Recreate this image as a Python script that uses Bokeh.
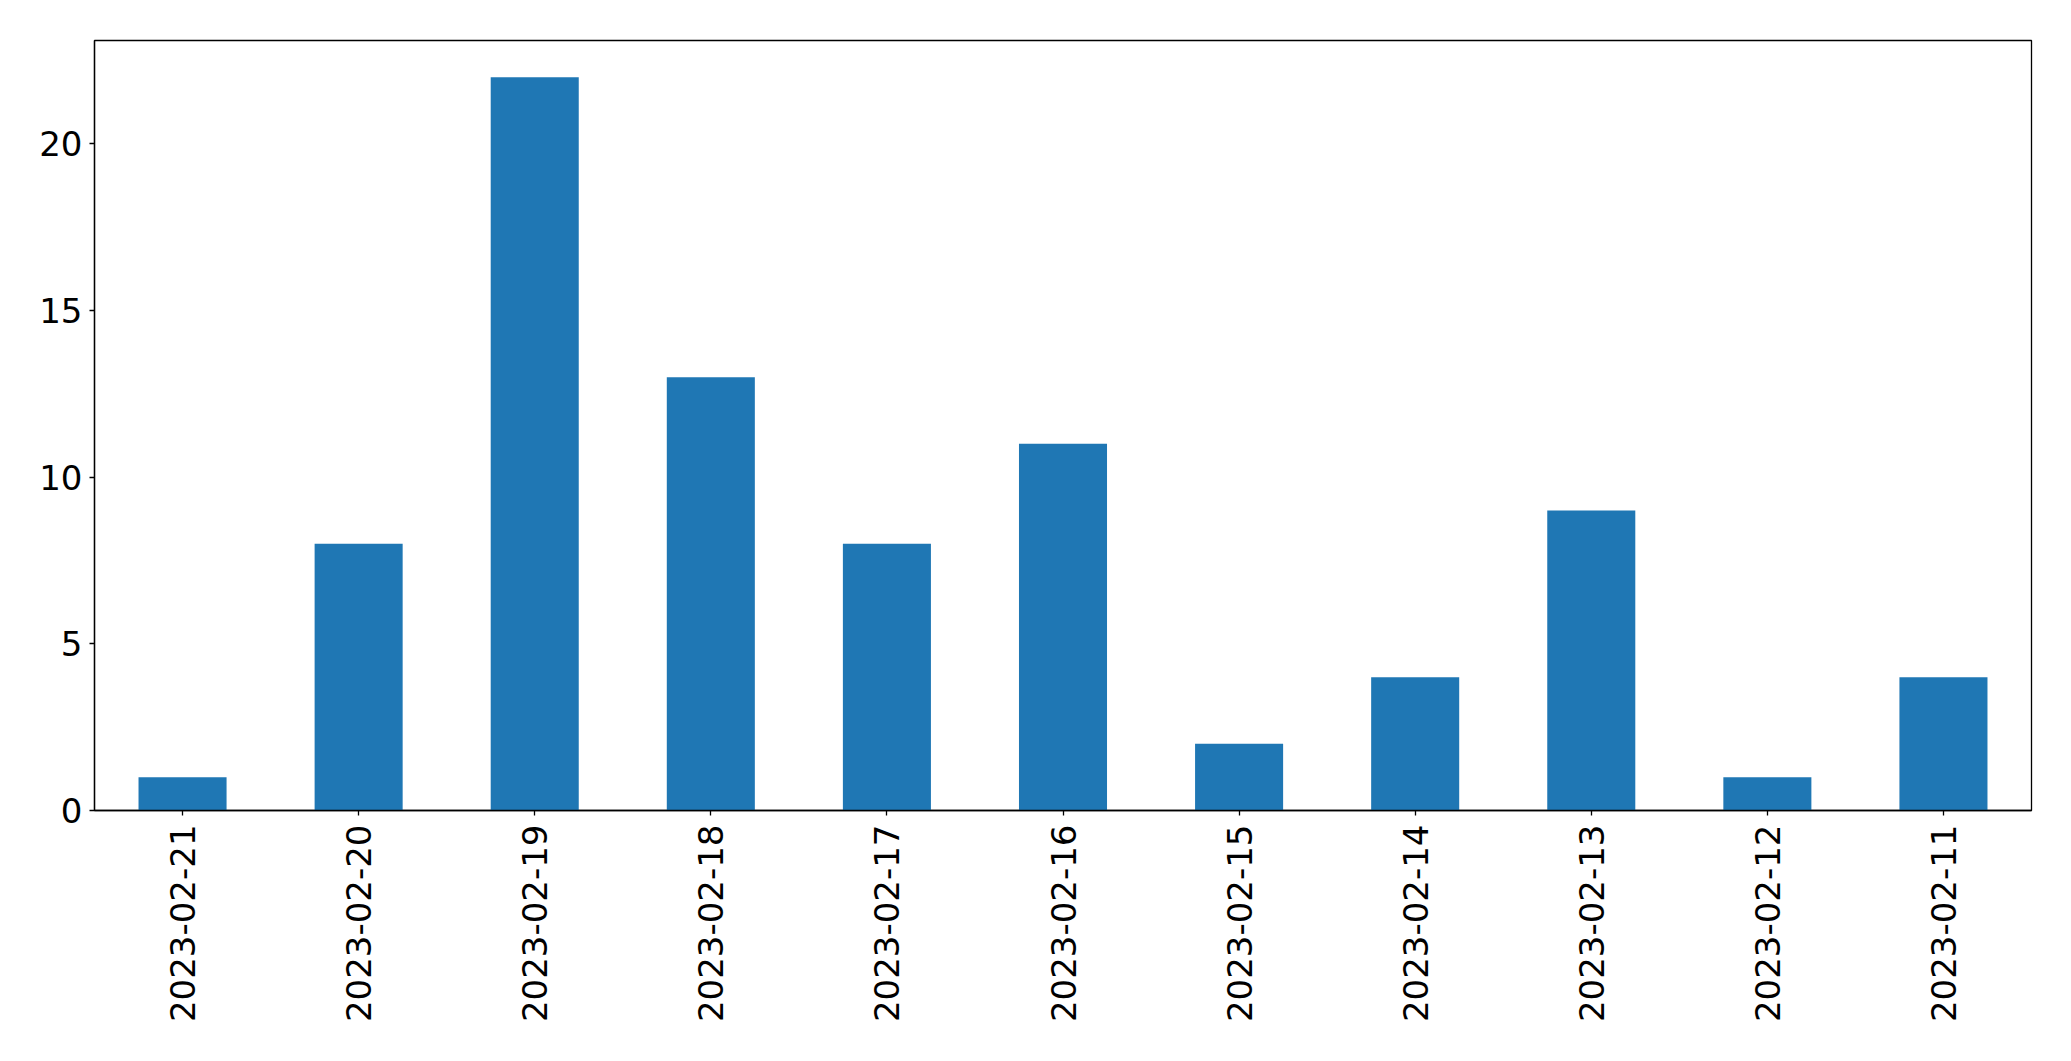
from bokeh.plotting import figure
from bokeh.models import FactorRange, Range1d, ColumnDataSource
from bokeh.embed import file_html
from bokeh.resources import INLINE
import math

dates = ["2023-02-21", "2023-02-20", "2023-02-19", "2023-02-18", "2023-02-17",
         "2023-02-16", "2023-02-15", "2023-02-14", "2023-02-13", "2023-02-12", "2023-02-11"]
counts = [1, 8, 22, 13, 8, 11, 2, 4, 9, 1, 4]
y_ticks = [0, 5, 10, 15, 20]

src = ColumnDataSource(dict(x=dates, top=counts))

p = figure(x_range=FactorRange(factors=dates, range_padding=0),
           y_range=Range1d(0, 23.1),
           width=2063, height=1053,
           min_border_left=94, min_border_right=32, min_border_top=40, min_border_bottom=243,
           output_backend="svg", toolbar_location=None)

p.vbar(x="x", top="top", width=0.5, source=src, color="#1f77b4", line_color=None)

p.xgrid.visible = False
p.ygrid.visible = False
p.outline_line_color = "black"
p.outline_line_width = 1.3
p.outline_line_alpha = 1

for ax in (p.xaxis[0], p.yaxis[0]):
    ax.axis_line_color = "black"
    ax.axis_line_width = 1.3
    ax.major_tick_line_color = "black"
    ax.major_tick_line_width = 1.3
    ax.major_tick_out = 5
    ax.major_tick_in = 0
    ax.minor_tick_line_color = None
    ax.major_label_text_font = "DejaVu Sans"
    ax.major_label_text_font_size = "34px"
    ax.major_label_text_color = "black"

p.yaxis[0].ticker = y_ticks
p.yaxis[0].major_label_standoff = 7
p.xaxis[0].major_label_orientation = math.pi / 2
p.xaxis[0].major_label_standoff = 9

open("out.html", "w").write(file_html(p, INLINE))
